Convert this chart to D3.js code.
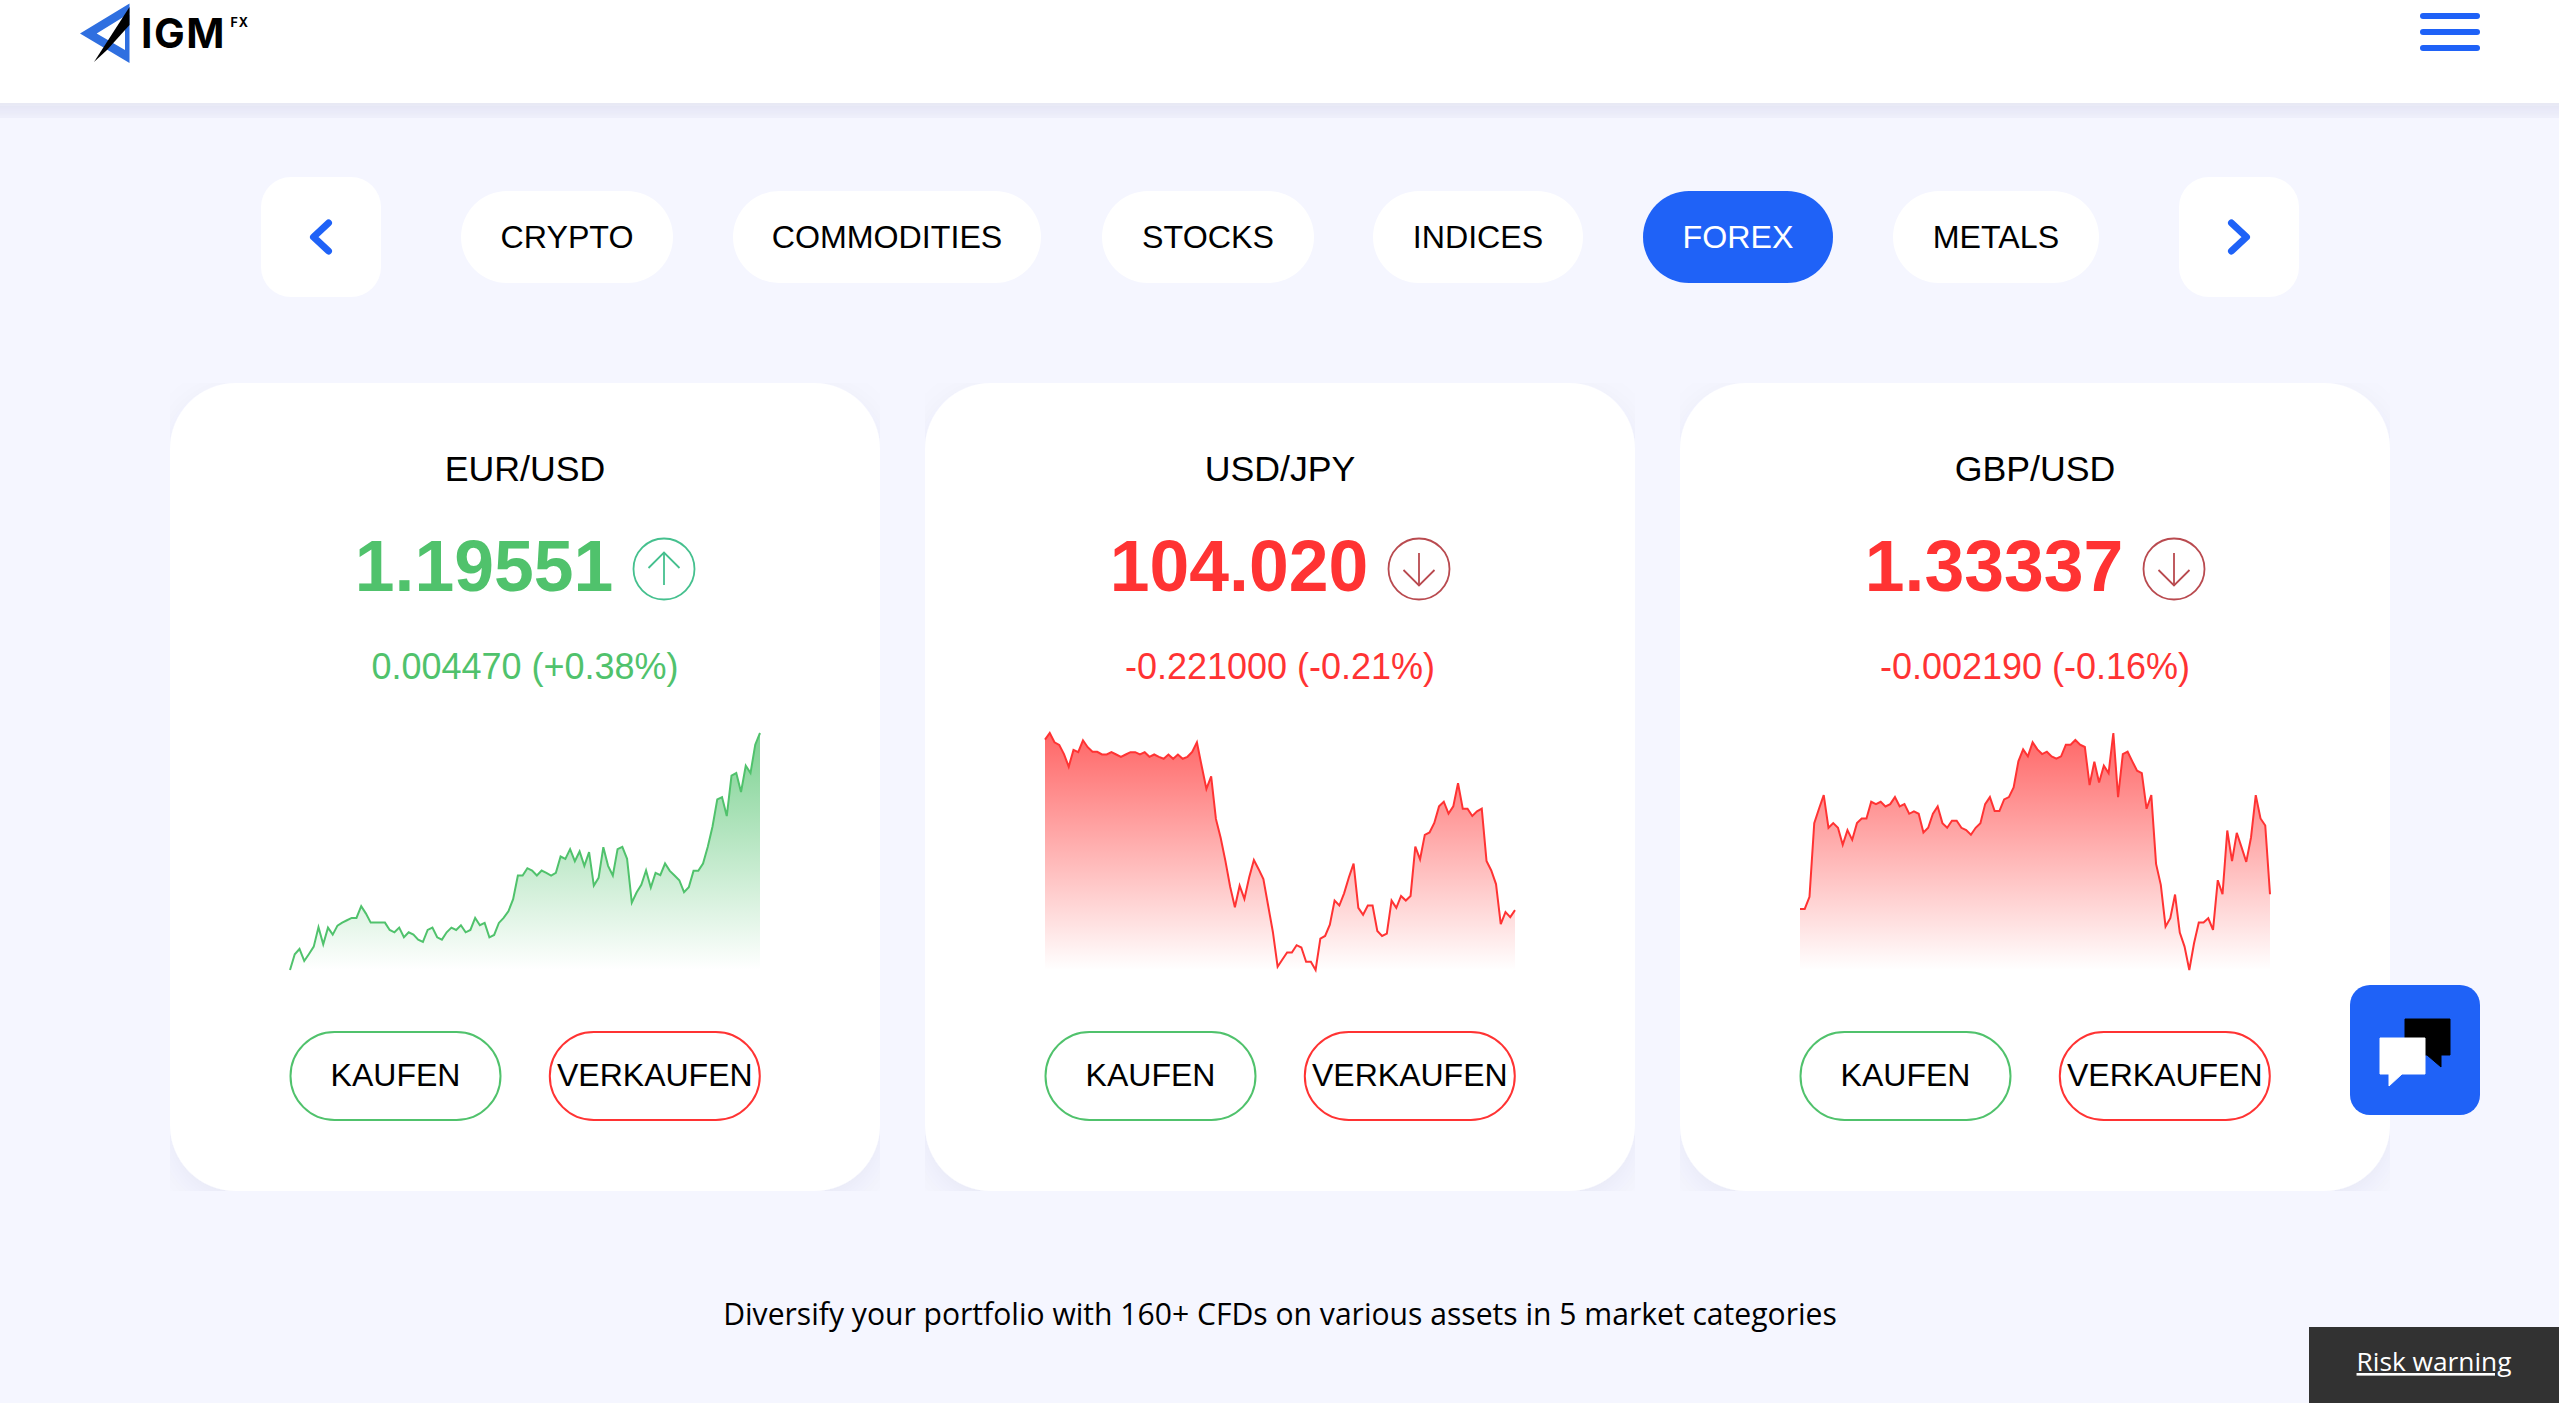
<!DOCTYPE html>
<html>
<head>
<meta charset="utf-8">
<title>IGM FX</title>
<script src="https://cdn.jsdelivr.net/npm/d3@7"></script>
<style>
body { margin: 0; background: #f5f6ff; overflow: hidden; }
svg { display: block; }
text { font-family: "Liberation Sans", sans-serif; }
</style>
</head>
<body>
<div id="page"></div>
<script>
// tabs in the nav row
const tabNames = ["CRYPTO", "COMMODITIES", "STOCKS", "INDICES", "FOREX", "METALS"];
const activeTab = "FOREX";

// cards
const pairs = ["EUR/USD", "USD/JPY", "GBP/USD"];
const prices = ["1.19551", "104.020", "1.33337"];
const changes = ["0.004470 (+0.38%)", "-0.221000 (-0.21%)", "-0.002190 (-0.16%)"];
const directions = ["up", "down", "down"];

// chart levels (height above the lowest point of each chart)
const eurUsd = [0,47,63,27,48,70,128,77,127,106,133,142,149,156,156,191,169,142,142,142,142,120,113,127,98,113,106,91,84,120,127,98,91,113,127,120,134,113,120,156,134,141,98,105,141,156,176,212,283,283,305,298,283,298,291,283,291,340,333,362,326,355,312,353,253,276,368,312,283,362,369,333,202,232,255,298,247,291,284,319,297,283,269,233,248,297,297,319,369,430,511,518,461,582,590,533,612,590,675,710];
const usdJpy = [697,717,689,681,653,615,666,659,695,674,660,660,652,652,659,652,645,652,659,659,652,659,645,652,645,639,652,639,652,639,645,660,689,617,548,586,457,400,330,252,190,255,215,280,333,305,275,195,115,10,32,53,53,75,68,25,25,0,95,103,137,210,195,232,280,322,188,167,195,195,118,103,110,210,188,224,210,224,373,335,409,416,445,495,509,473,495,565,488,488,466,480,488,330,301,260,139,175,160,181];
const gbpUsd = [183,183,219,440,483,524,426,440,426,375,419,390,440,454,454,504,497,504,490,497,518,490,497,468,475,468,412,426,468,490,440,426,447,447,426,419,405,426,440,497,518,476,476,511,518,547,625,661,640,682,661,647,654,640,633,640,675,675,689,675,668,554,624,562,612,590,710,518,647,654,625,597,590,483,524,318,255,130,155,226,112,70,0,80,142,142,155,120,269,227,418,326,411,368,324,397,524,454,433,227];
const series = [eurUsd, usdJpy, gbpUsd];

const footerText = "Diversify your portfolio with 160+ CFDs on various assets in 5 market categories";

const WIDTH = 2559, HEIGHT = 1403;
const BLUE = "#1f62f7", GREEN = "#50c26c", RED = "#ff3333";

const tabLefts = [461, 733, 1102, 1373, 1643, 1893];
const tabWidths = [212, 308, 212, 210, 190, 206];
const cardLefts = [170, 925, 1680];

const svg = d3.select("#page").append("svg").attr("width", WIDTH).attr("height", HEIGHT);
const defs = svg.append("defs");

let soft = defs.append("filter").attr("id", "soft")
    .attr("x", "-10%").attr("y", "-10%").attr("width", "120%").attr("height", "120%");
soft.append("feDropShadow").attr("dx", 0).attr("dy", 3).attr("stdDeviation", 14)
    .attr("flood-color", "#2a3070").attr("flood-opacity", 0.13);

let cardShadow = defs.append("filter").attr("id", "cardshadow")
    .attr("x", "-10%").attr("y", "-10%").attr("width", "120%").attr("height", "120%");
cardShadow.append("feDropShadow").attr("dx", 0).attr("dy", 10).attr("stdDeviation", 16)
    .attr("flood-color", "#2a3070").attr("flood-opacity", 0.06);

svg.append("rect").attr("width", WIDTH).attr("height", HEIGHT).attr("fill", "#f5f6ff");

function draw_header() {
    svg.append("rect").attr("x", -40).attr("y", -40).attr("width", WIDTH + 80).attr("height", 143)
        .attr("fill", "#fff").attr("filter", "url(#soft)");

    let logo = svg.append("g");
    logo.append("path")
        .attr("d", "M80 33.5L129.5 3.5V63L80 33.5ZM96.7 33.5L125 50V30L129.5 13.3L96.7 33.5Z")
        .attr("fill-rule", "evenodd").attr("fill", "#2f6fe0");
    logo.append("path").attr("d", "M129.5 7V25L107 50L94 62L129.5 7Z").attr("fill", "#000");
    logo.append("text").attr("x", 141).attr("y", 48).attr("font-size", 41).attr("font-weight", 700)
        .attr("letter-spacing", 1.5).style("font-family", "Inter").text("IGM");
    logo.append("text").attr("x", 230.5).attr("y", 27).attr("font-size", 12.5).attr("font-weight", 700)
        .attr("letter-spacing", 1).style("font-family", "Inter").text("FX");

    [16, 32, 48].forEach(y => {
        svg.append("line").attr("x1", 2423).attr("x2", 2477).attr("y1", y).attr("y2", y)
            .attr("stroke", BLUE).attr("stroke-width", 6).attr("stroke-linecap", "round");
    });
}

function draw_nav() {
    [[261, -1], [2179, 1]].forEach(([x, dir]) => {
        let cx = x + 60;
        svg.append("rect").attr("x", x).attr("y", 177).attr("width", 120).attr("height", 120)
            .attr("rx", 30).attr("fill", "#fff");
        let arrow = d3.line()([[cx - dir * 7.5, 223], [cx + dir * 7.5, 237], [cx - dir * 7.5, 251]]);
        svg.append("path").attr("d", arrow).attr("fill", "none").attr("stroke", BLUE)
            .attr("stroke-width", 7).attr("stroke-linecap", "round").attr("stroke-linejoin", "round");
    });

    let tab = svg.append("g").selectAll("g").data(tabNames).enter().append("g")
        .attr("transform", (d, i) => `translate(${tabLefts[i]},191)`);
    tab.append("rect").attr("width", (d, i) => tabWidths[i]).attr("height", 92).attr("rx", 46)
        .attr("fill", d => d == activeTab ? BLUE : "#fff");
    tab.append("text").attr("x", (d, i) => tabWidths[i] / 2).attr("y", 56.5)
        .attr("text-anchor", "middle").attr("font-size", 32.2)
        .attr("fill", d => d == activeTab ? "#fff" : "#000").text(d => d);
}

function draw_card(i) {
    let left = cardLefts[i], up = directions[i] == "up";
    let color = up ? GREEN : RED;
    let mid = 355;

    defs.append("clipPath").attr("id", "cardclip" + i).append("rect")
        .attr("x", 0).attr("y", 0).attr("width", 710).attr("height", 808);

    let card = svg.append("g").attr("transform", `translate(${left},383)`);
    card.append("g").attr("clip-path", `url(#cardclip${i})`).append("rect")
        .attr("width", 710).attr("height", 808).attr("rx", 66).attr("fill", "#fff").attr("filter", "url(#cardshadow)");

    card.append("text").attr("x", mid).attr("y", 97.5).attr("text-anchor", "middle")
        .attr("font-size", 35.7).attr("fill", "#000").text(pairs[i]);
    card.append("text").attr("x", 314).attr("y", 208).attr("text-anchor", "middle")
        .attr("font-size", 71.5).attr("font-weight", 700).attr("fill", color).text(prices[i]);

    let badge = card.append("g").attr("transform", "translate(494,186)")
        .attr("fill", "none").attr("stroke", up ? "#45c08e" : "#b94a4f").attr("stroke-width", 1.8);
    badge.append("circle").attr("r", 30.5);
    let s = up ? -1 : 1;
    badge.append("path").attr("d", d3.line()([[0, -s * 16], [0, s * 16.5]]));
    badge.append("path").attr("d", d3.line()([[-15.5, s], [0, s * 16.5], [15.5, s]]));

    card.append("text").attr("x", mid).attr("y", 295.5).attr("text-anchor", "middle")
        .attr("font-size", 36).attr("fill", color).text(changes[i]);

    draw_sparkline(card, i, color);

    [["KAUFEN", 120.5, GREEN], ["VERKAUFEN", 379.8, RED]].forEach(([label, x, stroke]) => {
        card.append("rect").attr("x", x).attr("y", 649).attr("width", 210).attr("height", 88)
            .attr("rx", 44).attr("fill", "#fff").attr("stroke", stroke).attr("stroke-width", 2);
        card.append("text").attr("x", x + 105).attr("y", 703).attr("text-anchor", "middle")
            .attr("font-size", 32).attr("fill", "#000").text(label);
    });
}

function draw_sparkline(card, i, color) {
    let values = series[i];
    let x = d3.scaleLinear().domain([0, values.length - 1]).range([120, 590]);
    let y = d3.scaleLinear().domain([0, d3.max(values)]).range([587, 350]);

    let grad = defs.append("linearGradient").attr("id", "fade" + i)
        .attr("gradientUnits", "userSpaceOnUse")
        .attr("x1", 0).attr("x2", 0).attr("y1", 350).attr("y2", 587);
    grad.append("stop").attr("offset", 0).attr("stop-color", color).attr("stop-opacity", 0.75);
    grad.append("stop").attr("offset", 1).attr("stop-color", color).attr("stop-opacity", 0);

    let area = d3.area().x((d, j) => x(j)).y0(587).y1(d => y(d));
    let line = d3.line().x((d, j) => x(j)).y(d => y(d));

    card.append("path").datum(values).attr("d", area).attr("fill", `url(#fade${i})`);
    card.append("path").datum(values).attr("d", line).attr("fill", "none")
        .attr("stroke", color).attr("stroke-width", 2);
}

function draw_footer() {
    svg.append("text").attr("x", 1280).attr("y", 1325).attr("text-anchor", "middle")
        .attr("font-size", 30.1).attr("fill", "#000").style("font-family", "Open Sans").text(footerText);

    svg.append("rect").attr("x", 2309).attr("y", 1327).attr("width", 250).attr("height", 76).attr("fill", "#323232");
    svg.append("text").attr("x", 2434).attr("y", 1371).attr("text-anchor", "middle")
        .attr("font-size", 26.3).attr("fill", "#fff").attr("text-decoration", "underline")
        .style("font-family", "Open Sans").text("Risk warning");

    svg.append("rect").attr("x", 2350).attr("y", 985).attr("width", 130).attr("height", 130)
        .attr("rx", 20).attr("fill", BLUE);
    svg.append("path").attr("d", "M2405 1019H2450V1055H2441V1067L2427 1055H2405Z").attr("fill", "#000")
        .attr("stroke", "#000").attr("stroke-width", 1).attr("stroke-linejoin", "round");
    svg.append("path").attr("d", "M2380 1038H2425V1074H2402L2389 1086V1074H2380Z").attr("fill", "#fff")
        .attr("stroke", "#fff").attr("stroke-width", 1).attr("stroke-linejoin", "round");
}

draw_header();
draw_nav();
pairs.forEach((d, i) => draw_card(i));
draw_footer();
</script>
</body>
</html>
